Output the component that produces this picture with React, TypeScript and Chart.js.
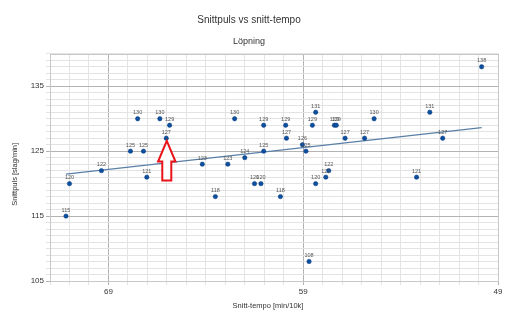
import React, { useEffect, useRef } from "react";
import { Chart, registerables } from "chart.js";

Chart.register(...registerables);

// Snitt-tempo [min/10k]
const tempo: number[] = [
  71.18, 71.0, 69.36, 67.87, 67.5, 67.2, 67.03, 66.36, 66.03, 65.86,
  64.18, 63.51, 62.87, 62.52, 62.0, 61.5, 61.17, 61.03, 61.03, 60.17,
  59.9, 59.86, 59.04, 58.86, 58.7, 58.53, 58.36, 58.36, 57.84, 57.69,
  57.4, 57.3, 56.85, 55.85, 55.36, 53.18, 52.5, 51.84, 49.84,
];
// Snittpuls [slag/min]
const puls: number[] = [
  115, 120, 122, 125, 130, 125, 121, 130, 127, 129,
  123, 118, 123, 130, 124, 120, 120, 129, 125, 118,
  129, 127, 126, 125, 108, 129, 131, 120, 121, 122,
  129, 129, 127, 127, 130, 121, 131, 127, 138,
];
const highlightIndex = 8; // point marked with the red arrow

const titleText = "Snittpuls vs snitt-tempo";
const subtitleText = "Löpning";
const xTitle = "Snitt-tempo [min/10k]";
const yTitle = "Snittpuls [slag/min]";
const xMin = 49, xMax = 72, xMajorBase = 49;
const yMin = 105, yMax = 140, yMajorBase = 105;

function regression(xs: number[], ys: number[]) {
  const n = xs.length;
  const mx = xs.reduce((a, b) => a + b, 0) / n;
  const my = ys.reduce((a, b) => a + b, 0) / n;
  let sxy = 0, sxx = 0;
  for (let i = 0; i < n; i++) {
    sxy += (xs[i] - mx) * (ys[i] - my);
    sxx += (xs[i] - mx) * (xs[i] - mx);
  }
  const b = sxy / sxx;
  return { a: my - b * mx, b };
}

const FONT = "'Liberation Sans', Arial, sans-serif";

export default function App() {
  const ref = useRef<HTMLCanvasElement | null>(null);
  useEffect(() => {
    document.body.style.margin = "0";
    const canvas = ref.current!;
    const { a, b } = regression(tempo, puls);
    const lo = Math.min(...tempo), hi = Math.max(...tempo);
    const trend = [
      { x: hi, y: a + b * hi },
      { x: lo, y: a + b * lo },
    ];
    const points = tempo.map((x, i) => ({ x, y: puls[i] }));

    const labelPlugin = {
      id: "pointLabels",
      afterDatasetsDraw(chart: any) {
        const ctx = chart.ctx;
        const meta = chart.getDatasetMeta(0);
        ctx.save();
        ctx.font = `5.5px ${FONT}`;
        ctx.fillStyle = "#555";
        ctx.textAlign = "center";
        ctx.textBaseline = "alphabetic";
        meta.data.forEach((el: any, i: number) => {
          ctx.fillText(String(puls[i]), el.x, el.y - 4.5);
        });
        // arrow
        const p = meta.data[highlightIndex];
        const cx = p.x + 0.5, ty = p.y + 2.7;
        ctx.beginPath();
        ctx.moveTo(cx, ty);
        ctx.lineTo(cx + 8.7, ty + 20.7);
        ctx.lineTo(cx + 4.5, ty + 20.7);
        ctx.lineTo(cx + 4.5, ty + 39.7);
        ctx.lineTo(cx - 4.5, ty + 39.7);
        ctx.lineTo(cx - 4.5, ty + 20.7);
        ctx.lineTo(cx - 8.7, ty + 20.7);
        ctx.closePath();
        ctx.fillStyle = "#ffffff";
        ctx.fill();
        ctx.strokeStyle = "#e8141a";
        ctx.lineWidth = 2;
        ctx.stroke();
        ctx.restore();
      },
      afterDraw(chart: any) {
        const { left, top, right, bottom } = chart.chartArea;
        const ctx = chart.ctx;
        ctx.save();
        ctx.strokeStyle = "#c8c8c8";
        ctx.lineWidth = 1;
        ctx.strokeRect(Math.round(left) + 0.5, Math.round(top) + 0.5, Math.round(right - left), Math.round(bottom - top));
        // axis titles
        ctx.fillStyle = "#333";
        ctx.font = `7.5px ${FONT}`;
        ctx.textAlign = "center";
        ctx.textBaseline = "middle";
        ctx.fillText(xTitle, (left + right) / 2 - 6, bottom + 25);
        ctx.translate(15, (top + bottom) / 2 + 7);
        ctx.rotate(-Math.PI / 2);
        ctx.fillText(yTitle, 0, 0);
        ctx.restore();
      },
    };

    const chart = new Chart(canvas, {
      type: "scatter",
      data: {
        datasets: [
          {
            data: points,
            backgroundColor: "#0d4f9e",
            borderColor: "#0a3f80",
            borderWidth: 0.5,
            pointRadius: 2.2,
            order: 1,
          },
          {
            type: "line",
            data: trend,
            borderColor: "#5a7fa6",
            borderWidth: 1.2,
            pointRadius: 0,
            showLine: true,
            fill: false,
            order: 2,
          } as any,
        ],
      },
      options: {
        animation: false,
        responsive: false,
        devicePixelRatio: 1,
        layout: { padding: { left: 0, right: 14, top: 0, bottom: 0 } },
        plugins: {
          legend: { display: false },
          tooltip: { enabled: false },
          title: {
            display: true,
            text: titleText,
            color: "#333",
            font: { family: FONT, size: 10, weight: "normal" },
            padding: { top: 14, bottom: 10 },
          },
          subtitle: {
            display: true,
            text: subtitleText,
            color: "#333",
            font: { family: FONT, size: 9, weight: "normal" },
            padding: { top: 0, bottom: 7 },
          },
        },
        scales: {
          x: {
            type: "linear",
            min: xMin,
            max: xMax,
            reverse: true,
            afterFit: (s: any) => { s.height = 41; },
            ticks: {
              stepSize: 1,
              autoSkip: false,
              maxRotation: 0,
              padding: 2,
              color: "#333",
              font: { family: FONT, size: 8 },
              callback: (v: any) => ((Number(v) - xMajorBase) % 10 === 0 ? String(v) : ""),
            },
            grid: {
              color: (c: any) => ((c.tick && (c.tick.value - xMajorBase) % 10 === 0) ? "#b3b3b3" : "#e3e3e3"),
              tickLength: 4,
            },
            border: { display: false },
          },
          y: {
            type: "linear",
            min: yMin,
            max: yMax,
            afterFit: (s: any) => { s.width = 50; },
            ticks: {
              stepSize: 1,
              autoSkip: false,
              padding: 2,
              color: "#333",
              font: { family: FONT, size: 8 },
              callback: (v: any) => ((Number(v) - yMajorBase) % 10 === 0 ? String(v) : ""),
            },
            grid: {
              color: (c: any) => ((c.tick && (c.tick.value - yMajorBase) % 10 === 0) ? "#b3b3b3" : "#e3e3e3"),
              tickLength: 4,
            },
            border: { display: false },
          },
        },
      },
      plugins: [labelPlugin],
    } as any);
    return () => chart.destroy();
  }, []);
  return (
    <div style={{ width: 512, height: 322, background: "#fff" }}>
      <canvas ref={ref} width={512} height={322} />
    </div>
  );
}
